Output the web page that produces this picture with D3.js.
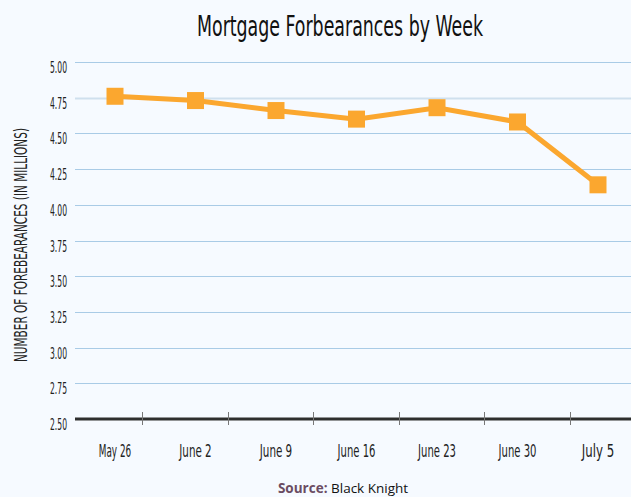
<!DOCTYPE html>
<html>
<head>
<meta charset="utf-8">
<script src="https://cdn.jsdelivr.net/npm/d3@7"></script>
<style>
  body { margin: 0; background: #f6faff; }
  svg { display: block; }
</style>
</head>
<body>
<div id="chart"></div>
<script>
var weeks = ['May 26', 'June 2', 'June 9', 'June 16', 'June 23', 'June 30', 'July 5'];
var forbearances = [4.76, 4.73, 4.66, 4.60, 4.68, 4.58, 4.14];
var yTicks = [2.50, 2.75, 3.00, 3.25, 3.50, 3.75, 4.00, 4.25, 4.50, 4.75, 5.00];

var width = 631, height = 497;
var narrow = '"Liberation Sans Narrow", "DejaVu Sans Condensed", sans-serif';

var svg = d3.select('#chart')
  .append('svg')
  .attr('width', width)
  .attr('height', height);

svg.append('rect')
  .attr('width', width)
  .attr('height', height)
  .attr('fill', '#f6faff');

var y = d3.scaleLinear().domain([2.5, 5]).range([419, 62]);
var x = d3.scalePoint().domain(weeks).range([115, 598]);
// tick marks on the baseline sit on their own grid
var xTick = d3.scaleBand().domain(weeks).range([56.5, 655]).padding(0);

// title
svg.append('text')
  .attr('x', 340)
  .attr('y', 36)
  .attr('text-anchor', 'middle')
  .attr('font-family', narrow)
  .attr('font-size', 28)
  .attr('fill', '#111')
  .attr('textLength', 286)
  .attr('lengthAdjust', 'spacingAndGlyphs')
  .text('Mortgage Forbearances by Week');

// gridlines
svg.selectAll('.grid')
  .data(yTicks.slice(1))
  .enter()
  .append('line')
  .attr('x1', 75)
  .attr('x2', width)
  .attr('y1', function(d) { return Math.round(y(d)) + 0.5; })
  .attr('y2', function(d) { return Math.round(y(d)) + 0.5; })
  .attr('stroke', function(d) { return d == 4.75 ? '#cfe0ee' : '#a9cbe6'; })
  .attr('stroke-width', function(d) { return d == 4.75 ? 2 : 1; });

// y labels (hang just under their gridline)
svg.selectAll('.ylab')
  .data(yTicks)
  .enter()
  .append('text')
  .attr('x', 67)
  .attr('y', function(d) { return y(d) + 11; })
  .attr('text-anchor', 'end')
  .attr('font-family', narrow)
  .attr('font-size', 15.5)
  .attr('fill', '#222')
  .attr('textLength', 17)
  .attr('lengthAdjust', 'spacingAndGlyphs')
  .text(function(d) { return d.toFixed(2); });

// y axis title
svg.append('text')
  .attr('transform', 'translate(27,245) rotate(-90)')
  .attr('text-anchor', 'middle')
  .attr('font-family', narrow)
  .attr('font-size', 18)
  .attr('fill', '#222')
  .attr('textLength', 234)
  .attr('lengthAdjust', 'spacingAndGlyphs')
  .text('NUMBER OF FOREBEARANCES (IN MILLIONS)');

// baseline
svg.append('line')
  .attr('x1', 75)
  .attr('x2', width)
  .attr('y1', y(2.5))
  .attr('y2', y(2.5))
  .attr('stroke', '#2e2e2e')
  .attr('stroke-width', 3);

svg.selectAll('.xtick')
  .data(weeks.slice(1))
  .enter()
  .append('line')
  .attr('x1', function(d) { return Math.round(xTick(d)) + 0.5; })
  .attr('x2', function(d) { return Math.round(xTick(d)) + 0.5; })
  .attr('y1', y(2.5) - 7)
  .attr('y2', y(2.5) + 6)
  .attr('stroke', '#777')
  .attr('stroke-width', 1);

// x labels
svg.selectAll('.xlab')
  .data(weeks)
  .enter()
  .append('text')
  .attr('x', function(d) { return x(d); })
  .attr('y', 457)
  .attr('text-anchor', 'middle')
  .attr('font-family', narrow)
  .attr('font-size', 17)
  .attr('fill', '#222')
  .attr('textLength', function(d) { return d.length * 5.4; })
  .attr('lengthAdjust', 'spacingAndGlyphs')
  .text(function(d) { return d; });

// line + markers
var line = d3.line()
  .x(function(d, i) { return x(weeks[i]); })
  .y(function(d) { return y(d); });

svg.append('path')
  .datum(forbearances)
  .attr('d', line)
  .attr('fill', 'none')
  .attr('stroke', '#fba72f')
  .attr('stroke-width', 5);

svg.selectAll('.pt')
  .data(forbearances)
  .enter()
  .append('rect')
  .attr('x', function(d, i) { return x(weeks[i]) - 8.5; })
  .attr('y', function(d) { return y(d) - 8.5; })
  .attr('width', 17)
  .attr('height', 17)
  .attr('fill', '#fba72f');

// source
var src = svg.append('text')
  .attr('x', 343)
  .attr('y', 493)
  .attr('text-anchor', 'middle')
  .attr('font-family', '"Open Sans", sans-serif')
  .attr('font-size', 13.5);
src.append('tspan').attr('font-weight', 'bold').attr('fill', '#6b4c62').text('Source:');
src.append('tspan').attr('fill', '#111').text(' Black Knight');
</script>
</body>
</html>
